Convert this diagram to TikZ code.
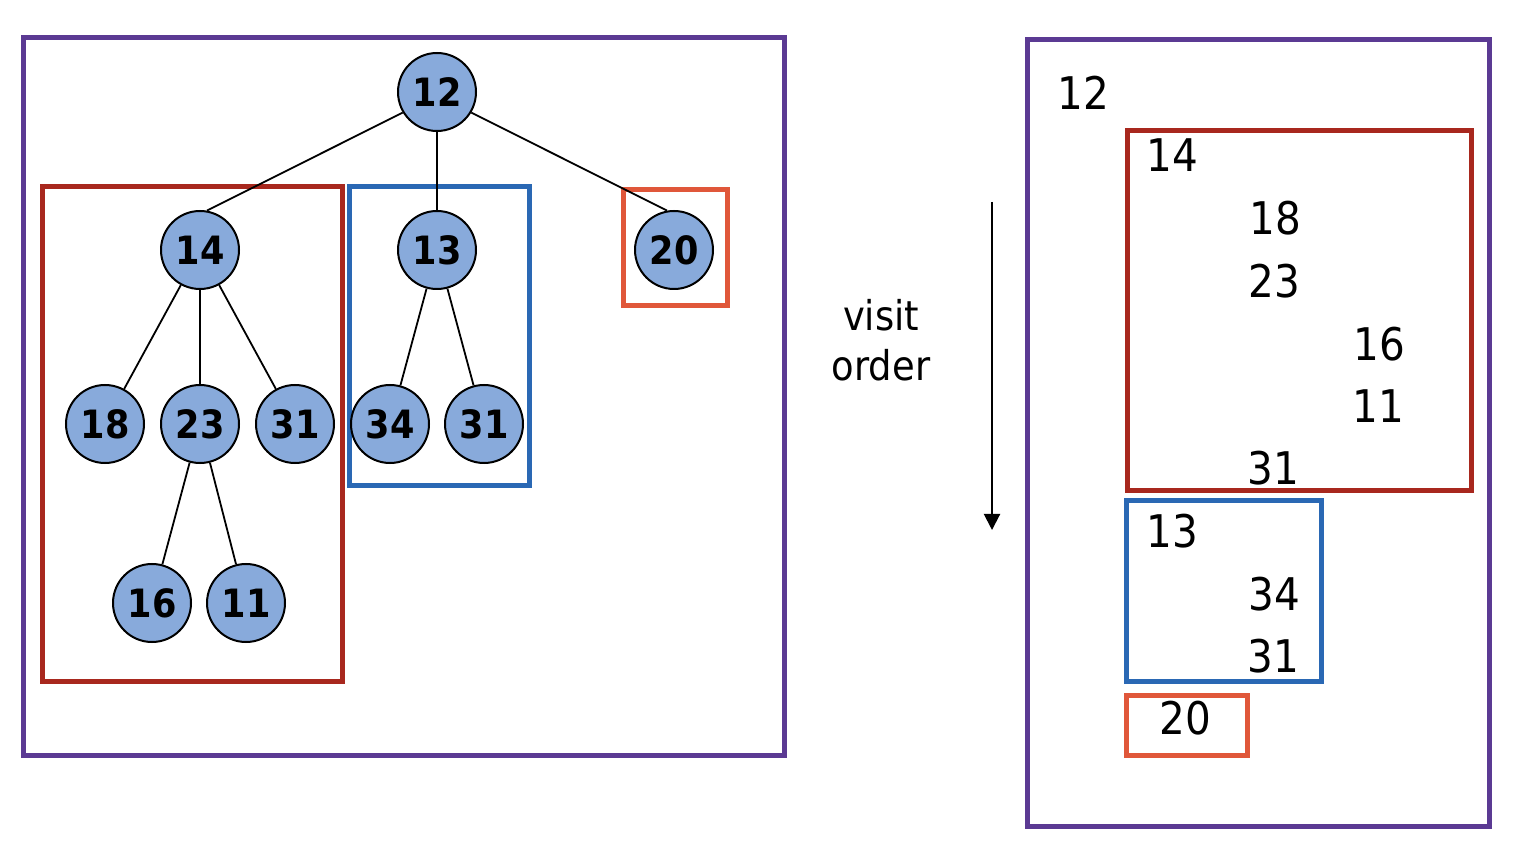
\documentclass[tikz,border=0pt]{standalone}
\usepackage{fontspec}
\setmainfont{DejaVu Sans Condensed}
\usetikzlibrary{arrows.meta}
\definecolor{purp}{HTML}{5B3A93}
\definecolor{redb}{HTML}{A8281E}
\definecolor{blueb}{HTML}{2A68B4}
\definecolor{orab}{HTML}{E0573A}
\definecolor{nodefill}{HTML}{88AADB}
\tikzset{
  tnode/.style={circle, draw=black, line width=1pt, fill=nodefill, minimum size=39pt, inner sep=0pt, font=\fontsize{19.5}{22}\selectfont\bfseries},
  edge/.style={draw=black, line width=0.9pt},
  frame/.style={line width=2.5pt},
  num/.style={inner sep=0pt, font=\fontsize{22.5}{26}\selectfont},
}
\begin{document}
\begin{tikzpicture}[x=0.5pt,y=-0.5pt]
\useasboundingbox (0,0) rectangle (1514,860);
% frames
\draw[frame, purp] (23,38) rectangle (784,755);
\draw[frame, purp] (1027,40) rectangle (1489,826);
\draw[frame, redb] (42,187) rectangle (342,681);
\draw[frame, blueb] (349,187) rectangle (529,486);
\draw[frame, orab] (623,190) rectangle (727,306);
% tree nodes
\node[tnode] (n12) at (437,92) {12};
\node[tnode] (n14) at (200,250) {14};
\node[tnode] (n13) at (437,250) {13};
\node[tnode] (n20) at (674,250) {20};
\node[tnode] (n18) at (105,424) {18};
\node[tnode] (n23) at (200,424) {23};
\node[tnode] (n31a) at (295,424) {31};
\node[tnode] (n34) at (390,424) {34};
\node[tnode] (n31b) at (484,424) {31};
\node[tnode] (n16) at (152,603) {16};
\node[tnode] (n11) at (246,603) {11};
% edges
\draw[edge] (n12.211) -- (n14.80);
\draw[edge] (n12) -- (n13);
\draw[edge] (n12.329) -- (n20.100);
\draw[edge] (n14) -- (n18);
\draw[edge] (n14) -- (n23);
\draw[edge] (n14) -- (n31a);
\draw[edge] (n13) -- (n34);
\draw[edge] (n13) -- (n31b);
\draw[edge] (n23) -- (n16);
\draw[edge] (n23) -- (n11);
% visit order
\node[inner sep=0pt, align=center, font=\fontsize{20.5}{25}\selectfont] (vo) at (881,340) {visit\\order};
\coordinate (atop) at (992,202);
\coordinate (abot) at (992,530);
\draw[line width=1pt, -{Stealth[length=8pt,width=8pt,inset=0pt]}] (atop) -- (abot);
% right list
\draw[frame, redb] (1127,131) rectangle (1471,491);
\draw[frame, blueb] (1126,501) rectangle (1321,681);
\draw[frame, orab] (1126,695) rectangle (1247,755);
\node[num] (r12) at (1083,93) {12};
\node[num] (r14) at (1172,155) {14};
\node[num] (r18) at (1275,218) {18};
\node[num] (r23) at (1274,281) {23};
\node[num] (r16) at (1379,344) {16};
\node[num] (r11) at (1378,406) {11};
\node[num] (r31a) at (1273,468) {31};
\node[num] (r13) at (1172,531) {13};
\node[num] (r34) at (1274,594) {34};
\node[num] (r31b) at (1273,656) {31};
\node[num] (r20) at (1185,718) {20};
\end{tikzpicture}
\end{document}
